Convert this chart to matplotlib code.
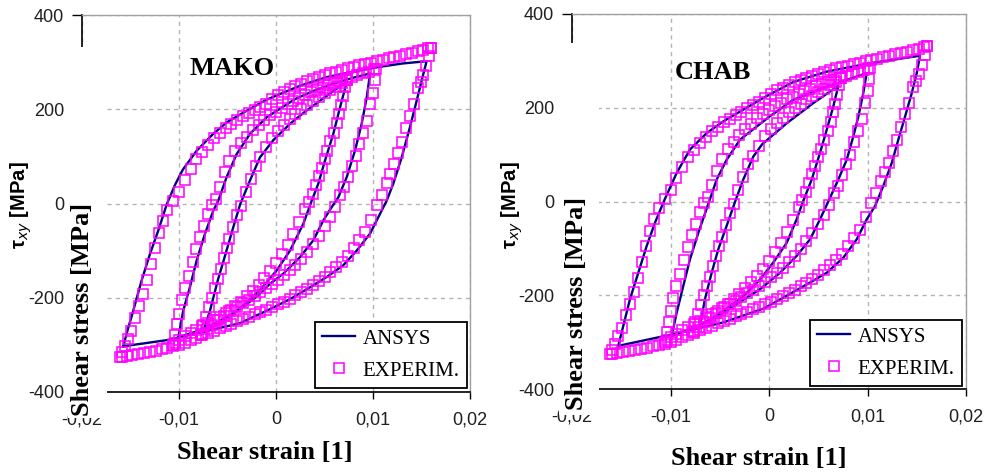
import matplotlib
matplotlib.use("Agg")
import matplotlib.pyplot as plt
from matplotlib.patches import Rectangle

# ---------------- data ----------------
xticks = [-0.02, -0.01, 0.0, 0.01, 0.02]
xticklabels = ["-0,02", "-0,01", "0", "0,01", "0,02"]
yticks = [-400, -200, 0, 200, 400]
yticklabels = ["-400", "-200", "0", "200", "400"]
panel_titles = ["MAKO", "CHAB"]
series_names = ["ANSYS", "EXPERIM."]

# ANSYS, MAKO model (loop = loading branch then unloading branch)
mako_outer_x = [-0.01574, -0.01540, -0.01471, -0.01385, -0.01299, -0.01213, -0.01127, -0.0104, -0.0096, -0.00818,
                -0.00646, -0.00509, -0.00302, -0.0010, 0.0005, 0.0025, 0.0052, 0.0080, 0.0107, 0.0130, 0.01553,
                0.01519, 0.0145, 0.01381, 0.01296, 0.01209, 0.01141, 0.01038, 0.00969, 0.00832, 0.00694,
                0.00523, 0.0035, 0.00144, -0.0006, -0.00371, -0.00784, -0.01127, -0.01574]
mako_outer_y = [-303, -276, -227, -163, -107, -57, -2, 40, 72, 112,
                148, 172, 197, 220, 233, 250, 268, 280, 290, 297, 302,
                275, 218, 162, 98, 42, 6, -36, -64, -100, -131,
                -156, -178, -203, -224, -254, -274, -290, -303]
mako_middle_x = [-0.01007, -0.00956, -0.00887, -0.00818, -0.00732, -0.00646, -0.00595, -0.00509, -0.00405, -0.00268,
                 -0.00096, 0.0004, 0.0020, 0.0040, 0.0060, 0.0080, 0.0097,
                 0.00935, 0.00883, 0.00814, 0.00729, 0.00642, 0.0056, 0.00488, 0.00385, 0.00247, 0.00075,
                 -0.0006, -0.0020, -0.0040, -0.0060, -0.0080, -0.01007]
mako_middle_y = [-284, -227, -177, -121, -64, -15, 6, 56, 105, 148,
                 183, 201, 222, 240, 255, 267, 276,
                 225, 169, 112, 56, 13, -12, -36, -78, -114, -149,
                 -170, -198, -228, -252, -270, -284]
mako_inner_x = [-0.0075, -0.0068, -0.0060, -0.0052, -0.0044, -0.0037, -0.00268, -0.00165, -0.0003, 0.00144,
                0.0030, 0.00454, 0.0060, 0.0073,
                0.0066, 0.00591, 0.00505, 0.00436, 0.00368, 0.00282, 0.00144, 0.00007, -0.0015, -0.0030,
                -0.0045, -0.0060, -0.0075]
mako_inner_y = [-272, -227, -163, -107, -50, -2, 49, 98, 134, 169,
                195, 218, 240, 258,
                204, 148, 91, 42, 6, -43, -100, -142, -180, -210,
                -235, -256, -272]

# ANSYS, CHAB model
chab_outer_x = [-0.0153, -0.01479, -0.01411, -0.01327, -0.01242, -0.01157, -0.0106, -0.00937, -0.00802, -0.00632,
                -0.00464, -0.00261, -0.0005, 0.00247, 0.00586, 0.01025, 0.01533,
                0.0150, 0.01449, 0.01381, 0.01313, 0.01246, 0.0116, 0.01076, 0.00992, 0.0089, 0.00754,
                0.00586, 0.00416, 0.0018, -0.0005, -0.00464, -0.00972, -0.0153]
chab_outer_y = [-308, -265, -208, -152, -95, -45, 4, 61, 111, 146,
                171, 196, 222, 255, 277, 295, 311,
                274, 231, 181, 132, 82, 33, -10, -38, -81, -120,
                -152, -173, -201, -228, -258, -283, -308]
chab_middle_x = [-0.00988, -0.00937, -0.0087, -0.00802, -0.00718, -0.00624, -0.00531, -0.0043, -0.00294, -0.00125,
                 0.0001, 0.00247, 0.00586, 0.00992,
                 0.00957, 0.00907, 0.00856, 0.00789, 0.00704, 0.00602, 0.00518, 0.00416, 0.00281, 0.00112,
                 -0.0009, -0.0030, -0.0050, -0.0075, -0.00988]
chab_middle_y = [-287, -237, -180, -123, -67, -10, 47, 89, 132, 160,
                 182, 217, 245, 274,
                 231, 181, 139, 89, 47, 0, -38, -81, -116, -152,
                 -187, -215, -242, -268, -287]
chab_inner_x = [-0.0070, -0.0065, -0.00582, -0.00515, -0.0043, -0.00337, -0.00261, -0.00159, -0.0007, 0.0018,
                0.0045, 0.00704,
                0.00653, 0.00586, 0.00518, 0.00434, 0.0034, 0.00281, 0.0018, 0.00044, -0.0009, -0.0025,
                -0.0045, -0.0060, -0.0070]
chab_inner_y = [-265, -208, -152, -102, -52, 4, 47, 96, 122, 167,
                210, 247,
                203, 153, 104, 47, -3, -38, -88, -130, -166, -200,
                -232, -252, -265]

# Experimental points (same test in both panels)
exp_outer_x = [-0.0161, -0.0159, -0.0156, -0.0153, -0.0149, -0.0145, -0.0141, -0.0137, -0.0133, -0.0129,
               -0.0125, -0.0121, -0.0117, -0.0112, -0.0106, -0.0100, -0.0094, -0.0088, -0.0082, -0.0076,
               -0.0070, -0.0064, -0.0058, -0.0052, -0.0046, -0.0040, -0.0034, -0.0028, -0.0022, -0.0016,
               -0.0010, -0.0004, 0.0002, 0.0008, 0.0014, 0.0020, 0.0026, 0.0032, 0.0038, 0.0044,
               0.0050, 0.0056, 0.0062, 0.0068, 0.0074, 0.0080, 0.0086, 0.0092, 0.0098, 0.0104,
               0.0110, 0.0116, 0.0122, 0.0128, 0.0134, 0.0140, 0.0146, 0.0152, 0.0157, 0.0160,
               0.0160, 0.0158, 0.0155, 0.0152, 0.0149, 0.0146, 0.0142, 0.0138, 0.0134, 0.0130,
               0.0126, 0.0122, 0.0118, 0.0114, 0.0109, 0.0104, 0.0098, 0.0092, 0.0086, 0.0080,
               0.0074, 0.0068, 0.0062, 0.0056, 0.0050, 0.0044, 0.0038, 0.0032, 0.0026, 0.0020,
               0.0014, 0.0008, 0.0002, -0.0004, -0.0010, -0.0016, -0.0022, -0.0028, -0.0034, -0.0040,
               -0.0046, -0.0052, -0.0058, -0.0064, -0.0070, -0.0076, -0.0082, -0.0088, -0.0094, -0.0100,
               -0.0106, -0.0112, -0.0118, -0.0124, -0.0130, -0.0136, -0.0142, -0.0148, -0.0154, -0.0159]
exp_outer_y = [-326, -316, -303, -287, -270, -243, -218, -192, -163, -128,
               -95, -63, -38, -14, 6, 24, 50, 74, 94, 110,
               125, 138, 150, 160, 169, 177, 185, 192, 199, 205,
               212, 221, 230, 237, 243, 249, 254, 259, 264, 268,
               272, 276, 280, 284, 287, 290, 293, 296, 299, 302,
               305, 308, 311, 314, 317, 320, 323, 326, 329, 331,
               331, 312, 292, 272, 258, 245, 211, 186, 160, 131,
               107, 83, 62, 43, 18, -4, -34, -61, -78, -94,
               -111, -124, -135, -146, -156, -165, -173, -181, -188, -195,
               -202, -208, -214, -219, -225, -230, -235, -240, -245, -250,
               -255, -260, -265, -270, -275, -280, -285, -290, -295, -300,
               -303, -306, -309, -312, -315, -317, -319, -321, -323, -325]
exp_middle_x = [-0.0106, -0.0104, -0.0102, -0.0100, -0.0097, -0.0094, -0.0090, -0.0086, -0.0082, -0.0078,
                -0.0074, -0.0070, -0.0066, -0.0062, -0.0058, -0.0053, -0.0048, -0.0042, -0.0036, -0.0030,
                -0.0024, -0.0018, -0.0012, -0.0006, 0.0000, 0.0006, 0.0012, 0.0018, 0.0024, 0.0030,
                0.0036, 0.0042, 0.0048, 0.0054, 0.0060, 0.0066, 0.0072, 0.0078, 0.0084, 0.0090,
                0.0096, 0.0101,
                0.0103, 0.0102, 0.0100, 0.0097, 0.0094, 0.0090, 0.0086, 0.0082, 0.0078, 0.0074,
                0.0070, 0.0066, 0.0061, 0.0056, 0.0050, 0.0044, 0.0038, 0.0032, 0.0026, 0.0020,
                0.0014, 0.0008, 0.0002, -0.0004, -0.0010, -0.0016, -0.0022, -0.0028, -0.0034, -0.0040,
                -0.0046, -0.0052, -0.0058, -0.0064, -0.0070, -0.0076, -0.0082, -0.0088, -0.0094, -0.0100,
                -0.0104]
exp_middle_y = [-300, -278, -256, -234, -205, -180, -154, -124, -96, -71,
                -48, -22, -4, 10, 35, 66, 90, 112, 128, 141,
                155, 166, 178, 187, 195, 203, 211, 218, 224, 230,
                236, 241, 246, 251, 256, 260, 264, 268, 272, 276,
                280, 285,
                285, 262, 235, 211, 176, 150, 126, 100, 79, 56,
                34, 18, -8, -28, -47, -68, -85, -102, -117, -130,
                -142, -152, -162, -171, -180, -188, -196, -204, -212, -219,
                -226, -233, -240, -247, -254, -261, -268, -275, -282, -289,
                -296]
exp_inner_x = [-0.0077, -0.0075, -0.0072, -0.0069, -0.0066, -0.0063, -0.0060, -0.0057, -0.0054, -0.0051,
               -0.0048, -0.0044, -0.0040, -0.0036, -0.0031, -0.0026, -0.0021, -0.0016, -0.0010, -0.0004,
               0.0002, 0.0008, 0.0014, 0.0020, 0.0026, 0.0032, 0.0038, 0.0044, 0.0050, 0.0056,
               0.0062, 0.0068, 0.0073,
               0.0073, 0.0071, 0.0069, 0.0067, 0.0065, 0.0063, 0.0060, 0.0056, 0.0053, 0.0050,
               0.0047, 0.0044, 0.0041, 0.0038, 0.0034, 0.0030, 0.0024, 0.0018, 0.0012, 0.0006,
               0.0000, -0.0006, -0.0012, -0.0018, -0.0024, -0.0030, -0.0036, -0.0042, -0.0048, -0.0054,
               -0.0060, -0.0066, -0.0071, -0.0076]
exp_inner_y = [-278, -258, -240, -220, -200, -180, -160, -138, -116, -95,
               -75, -50, -25, -5, 25, 52, 80, 98, 119, 140,
               154, 167, 179, 190, 200, 209, 218, 226, 234, 241,
               248, 255, 263,
               263, 248, 228, 208, 190, 170, 150, 132, 112, 95,
               76, 58, 40, 21, 3, -11, -40, -65, -88, -108,
               -126, -143, -158, -172, -185, -197, -208, -218, -228, -238,
               -248, -258, -267, -277]

ansys_loops = {
    "MAKO": [(mako_outer_x, mako_outer_y), (mako_middle_x, mako_middle_y), (mako_inner_x, mako_inner_y)],
    "CHAB": [(chab_outer_x, chab_outer_y), (chab_middle_x, chab_middle_y), (chab_inner_x, chab_inner_y)],
}
exp_loops = [(exp_outer_x, exp_outer_y), (exp_middle_x, exp_middle_y), (exp_inner_x, exp_inner_y)]

# ---------------- style ----------------
W, H = 986, 474
SANS = "Liberation Sans"
SERIF = "Liberation Serif"
LINE_C = "#000080"
MARK_C = "#FF00FF"

fig = plt.figure(figsize=(W / 100, H / 100), dpi=100)
fig.patch.set_facecolor("white")

# axes boxes in pixels: (left, top, right, bottom)
boxes = [(82, 15, 470, 392), (572, 14, 966, 389)]
title_pos = [(0.3866, 0.857), (0.358, 0.845)]
legend_anchor = [(0.9923, 0.0106), (0.9898, 0.008)]
cover_boxes = [(68, 47, 107, 418), (559, 43, 599, 415)]
stress_label_pos = [(83, 309), (577, 303)]
tau_label_pos = [(21, 205), (512, 205)]
strain_label_pos = [(265, 452), (759, 458)]

for i, name in enumerate(panel_titles):
    l, t, r, b = boxes[i]
    ax = fig.add_axes([l / W, (H - b) / H, (r - l) / W, (b - t) / H])
    ax.set_xlim(-0.02, 0.02)
    ax.set_ylim(-400, 400)
    ax.set_axisbelow(True)
    ax.grid(True, linestyle=(0, (3, 3)), color="#b4b4b4", linewidth=1.0)

    for k, (lx, ly) in enumerate(ansys_loops[name]):
        ax.plot(lx, ly, color=LINE_C, linewidth=1.7, zorder=3,
                label=series_names[0] if k == 0 else None)
    for k, (ex, ey) in enumerate(exp_loops):
        ax.plot(ex, ey, linestyle="none", marker="s", markersize=7.2,
                markerfacecolor="none", markeredgecolor=MARK_C, markeredgewidth=1.1,
                zorder=4, label=series_names[1] if k == 0 else None)

    ax.set_xticks(xticks)
    ax.set_xticklabels(xticklabels, fontfamily=SANS, fontsize=13)
    ax.set_yticks(yticks)
    ax.set_yticklabels(yticklabels, fontfamily=SANS, fontsize=13)
    ax.tick_params(axis="x", direction="out", length=5, width=1, pad=9, colors="black",
                   labelcolor="#202020")
    ax.tick_params(axis="y", direction="out", length=7, width=1, pad=6, colors="black",
                   labelcolor="#202020")
    for s in ("top", "right"):
        ax.spines[s].set_color("#a0a0a0")
        ax.spines[s].set_linewidth(1.0)
    for s in ("left", "bottom"):
        ax.spines[s].set_color("black")
        ax.spines[s].set_linewidth(1.2)

    ax.text(title_pos[i][0], title_pos[i][1], name, transform=ax.transAxes,
            ha="center", va="center", fontfamily=SERIF, fontweight="bold", fontsize=19)

    leg = ax.legend(loc="lower right", bbox_to_anchor=legend_anchor[i], borderaxespad=0,
                    prop={"family": SERIF, "size": 15}, frameon=True, fancybox=False,
                    framealpha=1, edgecolor="black", handlelength=1.6, handletextpad=0.35,
                    labelspacing=0.6, borderpad=0.35)
    leg.get_frame().set_linewidth(1.3)

    # white box behind the big rotated label (covers the left axis as in the original)
    cl, ct, cr, cb = cover_boxes[i]
    fig.patches.append(Rectangle((cl / W, (H - cb) / H), (cr - cl) / W, (cb - ct) / H,
                                 transform=fig.transFigure, facecolor="white",
                                 edgecolor="none", zorder=2))
    sx, sy = stress_label_pos[i]
    fig.text(sx / W, (H - sy) / H, "Shear stress [MPa]", rotation=90, ha="center", va="center",
             fontfamily=SERIF, fontweight="bold", fontsize=19, zorder=5)
    tx, ty = tau_label_pos[i]
    fig.text(tx / W, (H - ty) / H, r"τ$_{xy}$ [MPa]", rotation=90, ha="center", va="center",
             fontfamily=SANS, fontweight="bold", fontsize=14.5, zorder=5)
    gx, gy = strain_label_pos[i]
    fig.text(gx / W, (H - gy) / H, "Shear strain [1]", ha="center", va="center",
             fontfamily=SERIF, fontweight="bold", fontsize=19, zorder=5)

fig.savefig("out.png", dpi=100, facecolor="white")
